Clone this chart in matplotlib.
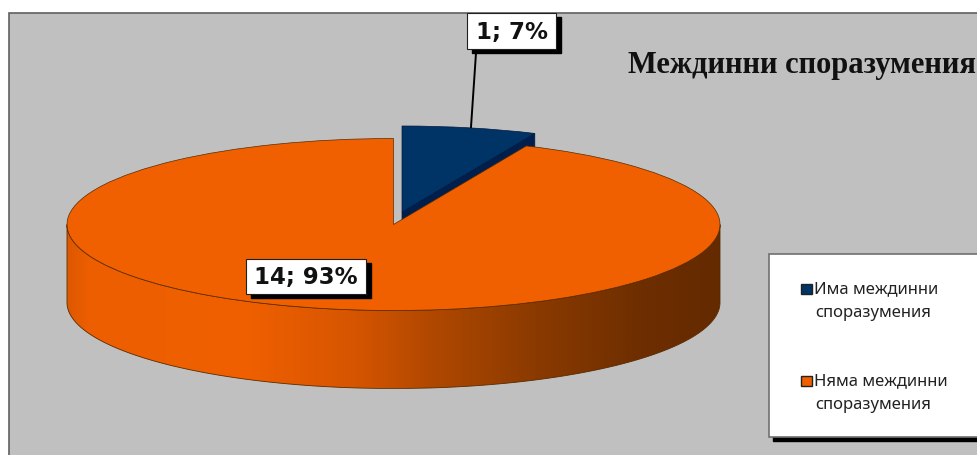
"""
Междинни споразумения: exploded 3-D look pie, drawn from ax.pie on a squashed axes.
"""

import numpy as np
import matplotlib
matplotlib.use("Agg")
import matplotlib.pyplot as plt
from matplotlib.colors import LinearSegmentedColormap
from matplotlib.patches import Polygon, Rectangle

TITLE = "Междинни споразумения"
CATEGORIES = ["Има междинни\nспоразумения", "Няма междинни\nспоразумения"]
VALUES = [1, 14]
COLORS = ["#003366", "#F06000"]

W, H = 977, 456
CX, CY = 393.5, 225.5   # pie centre (px)
RX, RY = 326.5, 86      # ellipse radii (px)
DEPTH = 78              # wall height (px)
BLUE_SHIFT = (8.5, 12.5)  # exploded slice offset (px: right, up)

fig = plt.figure(figsize=(W / 100, H / 100), dpi=100, facecolor="white")

# ── overlay in pixel coords for frame, labels and legend ──────────────────────
bg = fig.add_axes([0, 0, 1, 1], zorder=0)
bg.set_xlim(0, W)
bg.set_ylim(H, 0)
bg.axis("off")
bg.add_patch(Rectangle((8.5, 13.5), W, H, facecolor="#C0C0C0", edgecolor="#606060", linewidth=1.2))

# ── pie: radius 1 maps to RX / RY pixels ──────────────────────────────────────
ax = fig.add_axes([0, 0, 1, 1], zorder=1)
wedges, _ = ax.pie(VALUES, colors=COLORS, startangle=90, counterclock=False,
                   wedgeprops=dict(edgecolor="#5a2a00", linewidth=0.5))
ax.set_aspect("auto")
ax.patch.set_visible(False)
d = DEPTH / RY

blue, orange = wedges
blue.set_edgecolor("#001a40")
blue.set_center((BLUE_SHIFT[0] / RX, BLUE_SHIFT[1] / RY))
blue.set_zorder(3)
orange.set_zorder(5)

# dark cut face of the blue slice, mostly hidden by the orange top
bx, by = blue.center
rim = np.radians(blue.theta1)
ax.add_patch(Polygon([(bx, by), (bx + np.cos(rim), by + np.sin(rim)),
                      (bx + np.cos(rim), by + np.sin(rim) - d), (bx, by - d)],
                     facecolor="#001f4d", edgecolor="#001a40", linewidth=0.5, zorder=2))

# orange wall with the left-to-right shading
t = np.linspace(np.pi, 2 * np.pi, 200)
wall = np.concatenate([np.column_stack([np.cos(t), np.sin(t)]),
                       np.column_stack([np.cos(t[::-1]), np.sin(t[::-1]) - d])])
wall_patch = Polygon(wall, closed=True, facecolor="none", edgecolor="#5a2a00", linewidth=0.6, zorder=4.5)
ax.add_patch(wall_patch)
shade = LinearSegmentedColormap.from_list("wall", [
    (0.00, "#DE5800"), (0.03, "#EC5E00"), (0.27, "#F06000"), (0.44, "#D65500"),
    (0.56, "#B04800"), (0.72, "#8A3A00"), (0.88, "#6E2E00"), (1.00, "#642A00"),
])
img = ax.imshow(np.linspace(0, 1, 512)[None, :], cmap=shade, aspect="auto",
                extent=(-1, 1, -1 - d, 0), zorder=4)
img.set_clip_path(wall_patch)

ax.set_xlim(-CX / RX, (W - CX) / RX)
ax.set_ylim((CY - H) / RY, CY / RY)

# ── labels, title, legend ─────────────────────────────────────────────────────
top = fig.add_axes([0, 0, 1, 1], zorder=2)
top.set_xlim(0, W)
top.set_ylim(H, 0)
top.axis("off")

total = sum(VALUES)
label_boxes = [(467, 14, 89, 36), (246, 260, 120, 35)]
top.plot([476, 471], [54, 128], color="black", linewidth=1.4)
for value, (x, y, w, h) in zip(VALUES, label_boxes):
    top.add_patch(Rectangle((x + 5, y + 4), w, h, facecolor="black", edgecolor="black"))
    top.add_patch(Rectangle((x, y), w, h, facecolor="white", edgecolor="#202020", linewidth=0.8))
    top.text(x + w / 2, y + h / 2 + 0.5, f"{value}; {value / total:.0%}", ha="center", va="center",
             fontsize=16.5, fontweight="bold", color="#111111", family="DejaVu Sans")

top.text(628, 73, TITLE, ha="left", va="baseline", fontsize=22, fontweight="bold",
         family="Liberation Serif", color="#111111", clip_on=True)

top.add_patch(Rectangle((773, 259), W, 183, facecolor="black", edgecolor="black"))
top.add_patch(Rectangle((769, 255), W, 183, facecolor="white", edgecolor="#707070", linewidth=1.2))
for color, label, y in zip(COLORS, CATEGORIES, [289, 381]):
    top.add_patch(Rectangle((800.5, y - 4.5), 11, 10, facecolor=color, edgecolor="#222222", linewidth=1))
    first, second = label.split("\n")
    top.text(814, y, first, ha="left", va="center", fontsize=12, family="Noto Sans", color="#222222")
    top.text(815, y + 24, second, ha="left", va="center", fontsize=12, family="Noto Sans", color="#222222")

fig.savefig("out.png", dpi=100)
